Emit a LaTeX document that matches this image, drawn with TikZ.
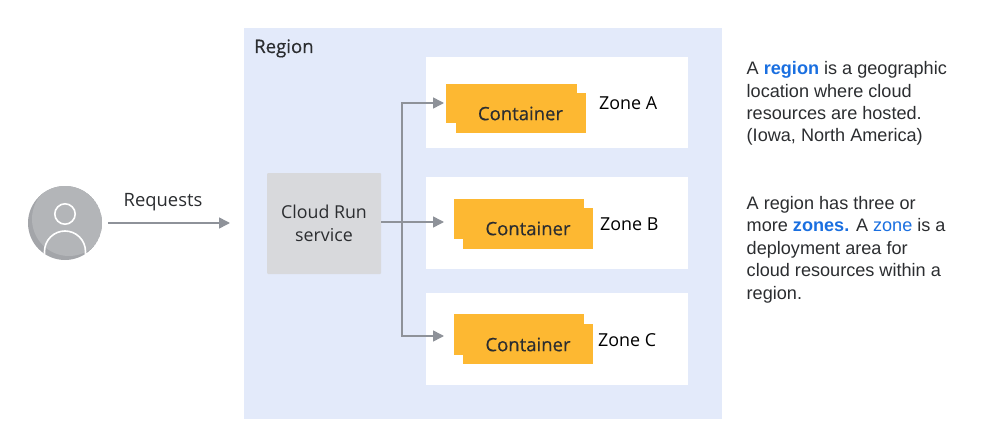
\documentclass[tikz,border=0pt]{standalone}
\usepackage{fontspec}
\setmainfont{Open Sans}
\newfontfamily\bodyfont{Liberation Sans}
\newfontfamily\medfont[FakeBold=0.4]{Open Sans}
\definecolor{regionbg}{HTML}{E3EAFA}
\definecolor{svcgray}{HTML}{D8D9DC}
\definecolor{contyellow}{HTML}{FDB832}
\definecolor{arrowgray}{HTML}{8E9299}
\definecolor{linkblue}{HTML}{1A6FE0}
\definecolor{inkdark}{HTML}{2B2D30}
\definecolor{userlight}{HTML}{B3B5B8}
\definecolor{userdark}{HTML}{A3A5A9}
\tikzset{
  x=1pt,y=-1pt,
  conn/.style={draw=arrowgray,line width=1.5pt},
  connarrow/.style={conn,-{Triangle[length=11pt,width=11pt]}},
  zonebox/.style={fill=white},
  cont/.style={fill=contyellow},
  conttext/.style={font=\medfont\fontsize{18.5}{22}\selectfont,text=inkdark,inner sep=0pt},
  zonetext/.style={font=\fontsize{17.9}{20}\selectfont,text=black,inner sep=0pt},
  bodytext/.style={font=\bodyfont\fontsize{18.1}{22.4}\selectfont,text=inkdark,inner sep=0pt,anchor=base west,align=left}
}
\usetikzlibrary{arrows.meta}
\begin{document}
\begin{tikzpicture}
\useasboundingbox (0,0) rectangle (993,441);
\fill[regionbg] (244,28) rectangle (722,419);
\node[font=\medfont\fontsize{18.6}{20}\selectfont,text=inkdark,inner sep=0pt,anchor=base west] (regionlabel) at (254,53) {Region};
% zones
\fill[zonebox] (426,57) rectangle (688,148);
\fill[zonebox] (426,177) rectangle (688,269);
\fill[zonebox] (426,293) rectangle (688,385);
% containers
\fill[cont] (446,84) rectangle (577,123);
\fill[cont] (456,93) rectangle (586,133);
\fill[cont] (454,199) rectangle (584,239);
\fill[cont] (463,208) rectangle (593,249);
\fill[cont] (454,314) rectangle (584,355);
\fill[cont] (463,324) rectangle (593,364);
\node[conttext] (ca) at (520.5,113.5) {Container};
\node[conttext] (cb) at (528,228.5) {Container};
\node[conttext] (cc) at (528,344.5) {Container};
\node[zonetext,anchor=base west] (za) at (599,110) {Zone A};
\node[zonetext,anchor=base west] (zb) at (600,230) {Zone B};
\node[zonetext,anchor=base west] (zc) at (598,346) {Zone C};
% service
\node[fill=svcgray,minimum width=114pt,minimum height=101pt,inner sep=0pt,rounded corners=1pt,
  font=\fontsize{17.8}{22.5}\selectfont,text=inkdark,align=center] (svc) at (324,223.5) {Cloud Run\\service};
% user
\begin{scope}
\clip (65,223) circle (37);
\fill[userdark] (65,223) circle (37);
\fill[userlight] (69,219) circle (37);
\draw[white,line width=1.6pt] (65,214) circle (10.2);
\draw[white,line width=1.6pt] (44.5,262) -- (44.5,251.5) arc[start angle=180,end angle=360,radius=20.5] -- (85.5,262);
\end{scope}
\coordinate (userout) at (108,223);
\coordinate (regionin) at (230,223);
\draw[connarrow] (userout) -- (regionin);
\node[font=\fontsize{18.4}{20}\selectfont,text=inkdark,inner sep=0pt,anchor=base] (req) at (163,206) {Requests};
% connectors
\coordinate (branch) at (402,223);
\coordinate (ina) at (444,103);
\coordinate (inb) at (444,222);
\coordinate (inc) at (444,336);
\draw[connarrow] (svc.east |- inb) -- (inb);
\draw[connarrow] (branch |- inb) -- (branch |- ina) -- (ina);
\draw[connarrow] (branch |- inb) -- (branch |- inc) -- (inc);
% text
\node[bodytext] (t1) at (746.5,142) {A \textcolor{linkblue}{\textbf{region}} is a geographic\\location where cloud\\resources are hosted.\\(Iowa, North America)};
\node[bodytext] (t2) at (746.5,299) {A region has three or\\more \textcolor{linkblue}{\textbf{zones.}} A \textcolor{linkblue}{zone} is a\\deployment area for\\cloud resources within a\\region.};
\end{tikzpicture}
\end{document}
